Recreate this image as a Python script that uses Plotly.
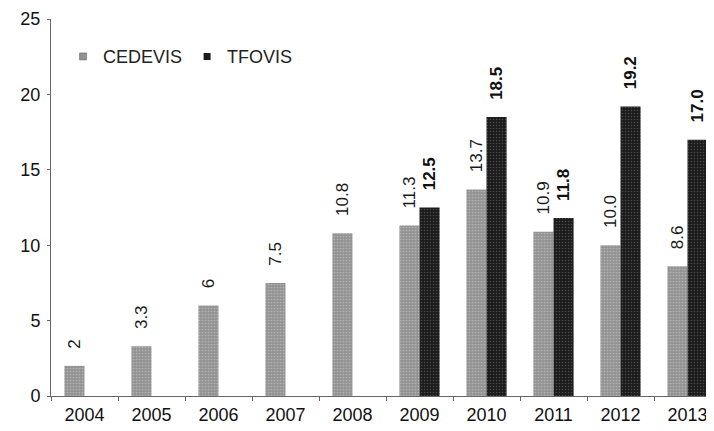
import plotly.graph_objects as go

years = ["2004", "2005", "2006", "2007", "2008", "2009", "2010", "2011", "2012", "2013"]
cedevis = [2, 3.3, 6, 7.5, 10.8, 11.3, 13.7, 10.9, 10.0, 8.6]
cedevis_labels = ["2", "3.3", "6", "7.5", "10.8", "11.3", "13.7", "10.9", "10.0", "8.6"]
tfovis = [None, None, None, None, None, 12.5, 18.5, 11.8, 19.2, 17.0]
tfovis_labels = ["", "", "", "", "", "12.5", "18.5", "11.8", "19.2", "17.0"]
y_ticks = [0, 5, 10, 15, 20, 25]

font = "Liberation Sans, Arial, sans-serif"
gray = "#939393"
black = "#1c1c1c"
pad = "\u00a0\u00a0\u00a0"

fig = go.Figure()
fig.add_trace(go.Bar(
    name="CEDEVIS", x=years, y=cedevis, text=[pad + t for t in cedevis_labels],
    textposition="outside", textangle=-90, constraintext="none",
    cliponaxis=False, showlegend=False,
    textfont=dict(family=font, size=17, color="#1a1a1a"),
    marker=dict(color=gray, line=dict(width=0),
                pattern=dict(shape=".", fgcolor="#d4d4d4", size=3, solidity=0.25)),
))
fig.add_trace(go.Bar(
    name="TFOVIS", x=years, y=tfovis, text=[(pad + t) if t else "" for t in tfovis_labels],
    textposition="outside", textangle=-90, constraintext="none",
    cliponaxis=False, showlegend=False,
    textfont=dict(family=font, size=17, color="#111", weight="bold"),
    marker=dict(color=black, line=dict(width=0),
                pattern=dict(shape=".", fgcolor="#7a7a7a", size=3, solidity=0.2)),
))
# legend entries with small square swatches
fig.add_trace(go.Scatter(name="CEDEVIS", x=[None], y=[None], mode="markers",
                         marker=dict(symbol="square", size=7, color=gray,
                                     line=dict(width=0.5, color="#555"))))
fig.add_trace(go.Scatter(name="TFOVIS", x=[None], y=[None], mode="markers",
                         marker=dict(symbol="square", size=7, color=black)))

fig.update_layout(
    width=714, height=431,
    margin=dict(l=43, r=1, t=6, b=43),
    paper_bgcolor="white", plot_bgcolor="white",
    barmode="group", bargap=0.4, bargroupgap=0,
    font=dict(family=font, size=18, color="#111"),
    showlegend=True,
    legend=dict(orientation="h", x=0.018, y=0.90, xanchor="left", yanchor="middle",
                font=dict(family=font, size=18, color="#222"),
                itemwidth=30, bgcolor="rgba(0,0,0,0)"),
    xaxis=dict(type="category", range=[-0.5, 9.5], showline=True, linecolor="#666",
               linewidth=1, ticks="outside", tickson="boundaries", ticklen=4,
               tickcolor="#666", showgrid=False, tickfont=dict(size=18),
               ticklabelstandoff=2, ticklabeloverflow="allow"),
    yaxis=dict(range=[0, 25], tickvals=y_ticks, showline=True, linecolor="#666",
               linewidth=1, ticks="outside", ticklen=3, tickcolor="#666",
               showgrid=False, zeroline=False, tickfont=dict(size=18),
               ticklabelstandoff=3, ticklabeloverflow="allow"),
)

fig.write_html("out.html")
